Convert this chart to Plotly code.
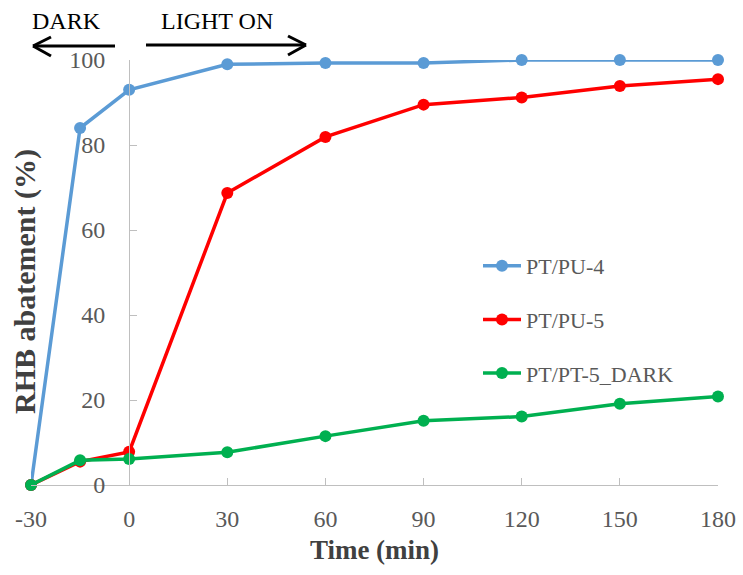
import plotly.graph_objects as go

time_min = [-30, -15, 0, 30, 60, 90, 120, 150, 180]
pt_pu_4 = [0, 84, 93, 99, 99.3, 99.3, 100, 100, 100]
pt_pu_5 = [0, 5.5, 7.8, 68.7, 81.9, 89.5, 91.2, 93.9, 95.5]
pt_pt_5_dark = [0, 5.8, 6.1, 7.7, 11.5, 15.1, 16.1, 19.1, 20.8]
series_names = ["PT/PU-4", "PT/PU-5", "PT/PT-5_DARK"]
series_colors = ["#5B9BD5", "#FF0000", "#00B050"]
x_ticks = [-30, 0, 30, 60, 90, 120, 150, 180]
x_tick_labels = ["-30", "0", "30", "60", "90", "120", "150", "180"]
y_ticks = [0, 20, 40, 60, 80, 100]

W, H = 743, 575
ML, MR, MT, MB = 31, 25, 60, 90
PW, PH = W - ML - MR, H - MT - MB
FONT = "Liberation Serif, Times New Roman, serif"


def px(x):
    return (x - ML) / PW


def py(y):
    return 1 - (y - MT) / PH


fig = go.Figure()
for i, (name, vals) in enumerate(zip(series_names, [pt_pu_4, pt_pu_5, pt_pt_5_dark])):
    fig.add_trace(go.Scatter(
        x=time_min, y=vals, name=name, mode="lines+markers",
        line=dict(color=series_colors[i], width=3.5),
        marker=dict(color=series_colors[i], size=12),
        cliponaxis=False, legendgroup=name,
    ))

xmin, xmax = min(x_ticks), max(x_ticks)
fig.update_layout(
    width=W, height=H,
    margin=dict(l=ML, r=MR, t=MT, b=MB, autoexpand=False),
    paper_bgcolor="white", plot_bgcolor="white",
    font=dict(family=FONT, size=23, color="#595959"),
    showlegend=True,
    legend=dict(
        x=px(478), y=py(245), xanchor="left", yanchor="top",
        font=dict(family=FONT, size=22, color="#595959"),
        bgcolor="rgba(0,0,0,0)", tracegroupgap=22, traceorder="grouped",
        itemwidth=38,
    ),
    xaxis=dict(
        range=[xmin, xmax], tickvals=x_ticks, ticktext=x_tick_labels,
        showgrid=False, zeroline=False,
        showline=True, linecolor="#BFBFBF", linewidth=1.3,
        ticks="inside", ticklen=7, tickcolor="#BFBFBF",
        tickfont=dict(family=FONT, size=24, color="#595959"),
        ticklabelstandoff=12, automargin=False,
        title=dict(text="<b>Time (min)</b>", font=dict(family=FONT, size=27, color="#404040"), standoff=9),
    ),
    yaxis=dict(
        range=[0, 100], tickvals=y_ticks, showgrid=False, zeroline=False,
        showline=True, linecolor="#BFBFBF", linewidth=1.3,
        ticks="inside", ticklen=7, tickcolor="#BFBFBF",
        tickfont=dict(family=FONT, size=24, color="#595959"),
        ticklabelstandoff=19, automargin=False,
        anchor="free", position=(0 - xmin) / (xmax - xmin),
    ),
)

# y-axis title
fig.add_annotation(
    text="<b>RHB abatement (%)</b>", textangle=-90,
    xref="paper", yref="paper", x=px(25), y=py(282), xanchor="center", yanchor="middle",
    showarrow=False, font=dict(family=FONT, size=30, color="#404040"),
)

# DARK / LIGHT ON labels
fig.add_annotation(text="DARK", xref="paper", yref="paper", x=px(66), y=py(21),
                   xanchor="center", yanchor="middle",
                   showarrow=False, font=dict(family=FONT, size=24, color="black"))
fig.add_annotation(text="LIGHT ON", xref="paper", yref="paper", x=px(217), y=py(21),
                   xanchor="center", yanchor="middle",
                   showarrow=False, font=dict(family=FONT, size=24, color="black"))


def seg(x0, y0, x1, y1):
    fig.add_shape(type="line", xref="paper", yref="paper",
                  x0=px(x0), y0=py(y0), x1=px(x1), y1=py(y1),
                  line=dict(color="black", width=3))


# left arrow
seg(115, 46, 33, 46)
seg(33, 46, 51, 37)
seg(33, 46, 51, 56)
# right arrow
seg(146, 45, 306, 45)
seg(306, 45, 288, 36)
seg(306, 45, 288, 55)

fig.write_html("out.html", config={"displayModeBar": False},
               post_script="document.body.style.margin='0';")
